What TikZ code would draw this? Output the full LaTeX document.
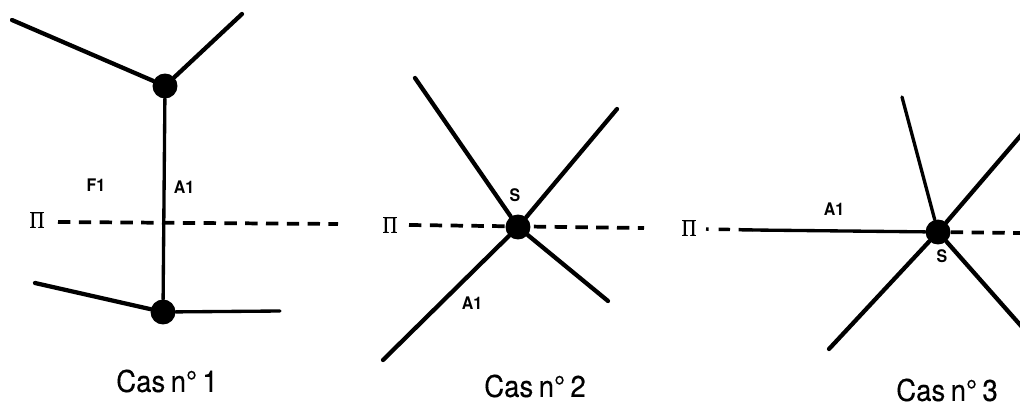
\documentclass[tikz,border=0pt]{standalone}
\usepackage{fontspec}
\setmainfont{Liberation Sans}
\newfontfamily\serifgr{Liberation Serif}[FakeBold=1,FakeStretch=0.85]
\newfontfamily\titlefont{TeX Gyre Heros}[FakeStretch=0.92,WordSpace=0.7,FakeBold=0.3]
\newfontfamily\tagfont{TeX Gyre Heros}[FakeStretch=0.92,BoldFont={* Bold}]
\begin{document}
\begin{tikzpicture}[x=0.75pt,y=-0.75pt,
  vertex/.style={circle,fill=black,draw=none,minimum size=18.7pt,inner sep=0pt},
  edgeline/.style={line width=3.2pt,line cap=round},
  thinedge/.style={line width=2.5pt,line cap=round},
  planeline/.style={line width=2.8pt,dash pattern=on 9.3pt off 6.3pt},
  tag/.style={font=\tagfont\bfseries\fontsize{13}{14}\selectfont,inner sep=0pt},
  title/.style={font=\titlefont\fontsize{22.5}{24}\selectfont,inner sep=0pt},
  pi/.style={font=\serifgr\fontsize{18}{18}\selectfont,inner sep=0pt}]
\useasboundingbox (0,0) rectangle (1020,406);
% Case 1
\coordinate (a1) at (12,20); \coordinate (a2) at (242,14);
\coordinate (a3) at (35,283); \coordinate (a4) at (280,311);
\coordinate (ap1) at (58,222); \coordinate (ap2) at (338,224);
\node[vertex] (at) at (165,86) {};
\node[vertex] (ab) at (163,312) {};
\draw[edgeline] (a1) -- (at);
\draw[edgeline] (a2) -- (at);
\draw[edgeline] (a3) -- (ab);
\draw[thinedge] (ab) -- (a4);
\draw[thinedge] (at) -- (ab);
\draw[planeline] (ap1) -- (ap2);
\node[tag] (f1) at (96,185) {F1};
\node[tag] (aa) at (184,187) {A1};
\node[pi] (pa) at (37,220) {Π};
\node[title] (ca) at (167,381) {Cas n° 1};
% Case 2
\coordinate (b1) at (415,78); \coordinate (b2) at (617,109);
\coordinate (b3) at (383,360); \coordinate (b4) at (608,301);
\coordinate (bp1) at (409,225); \coordinate (bp2) at (644,228);
\node[vertex] (bs) at (518,227) {};
\draw[planeline] (bp1) -- (bp2);
\draw[edgeline] (b1) -- (bs);
\draw[edgeline] (b2) -- (bs);
\draw[edgeline] (b3) -- (bs);
\draw[edgeline] (b4) -- (bs);
\node[tag] (bS) at (515,195) {S};
\node[tag] (bA) at (472,303) {A1};
\node[pi] (pb) at (390,225) {Π};
\node[title] (cb) at (535,386) {Cas n° 2};
% Case 3
\coordinate (c1) at (902,97); \coordinate (c2) at (1022,134);
\coordinate (c3) at (829,349); \coordinate (c4) at (1022,327);
\coordinate (cp0) at (706,229); \coordinate (cp1) at (753,230); \coordinate (cp2) at (1020,233);
\node[vertex] (cs) at (938,232) {};
\draw[line width=2.6pt,dash pattern=on 2pt off 7.5pt on 8.5pt off 6.5pt on 14pt] (cp0) -- (cp1);
\draw[thinedge] (cp1) -- (cs);
\draw[planeline] (cs) -- (cp2);
\draw[thinedge] (c1) -- (cs);
\draw[edgeline] (c2) -- (cs);
\draw[edgeline] (c3) -- (cs);
\draw[edgeline] (c4) -- (cs);
\node[tag] (cS) at (942,256) {S};
\node[tag] (cA) at (834,209) {A1};
\node[pi] (pc) at (689,228) {Π};
\node[title] (cc) at (947,390) {Cas n° 3};
\end{tikzpicture}
\end{document}
